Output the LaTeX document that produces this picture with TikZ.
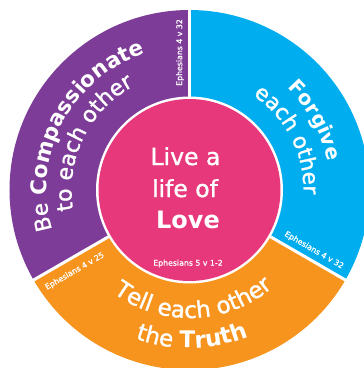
\documentclass[tikz,border=0pt]{standalone}
\usepackage{fontspec}
\setmainfont{DejaVu Sans}
\newfontfamily\medfam[FakeBold=1.2]{DejaVu Sans}
\usetikzlibrary{decorations.text}

\definecolor{secpurple}{RGB}{125,60,152}
\definecolor{seccyan}{RGB}{0,173,238}
\definecolor{secorange}{RGB}{247,148,30}
\definecolor{secpink}{RGB}{230,56,122}
\newcommand{\txtrg}[1]{\fontsize{#1}{#1}\medfam}
\newcommand{\txtbf}[1]{\fontsize{#1}{#1}\rmfamily\bfseries}

\tikzset{
  arctext/.style={decorate, decoration={text along path, text align=center,
      text color=white, text={#1}}},
  ref/.style={text=white, inner sep=0pt, font=\fontsize{7.8}{9}\medfam},
  centre/.style={text=white, inner sep=0pt, anchor=base},
}

\begin{document}
\begin{tikzpicture}[x=1pt, y=1pt]
\useasboundingbox (-189.5,-178) rectangle (174.5,190);
\clip (-189.5,-178) rectangle (174.5,190);
\fill[white] (-189.5,-178) rectangle (174.5,190);

\foreach \col/\a/\b in {secpurple/90/210, seccyan/-30/90, secorange/210/330}
{
    \fill[\col] (0,0) -- (\a:180pt) arc[start angle=\a, end angle=\b, radius=180pt] -- cycle;
}
\foreach \a in {90, 210, 330}
{
    \draw[white, line width=3pt] (0,0) -- (\a:190pt);
}
\fill[white] (0,0) circle[radius=93.5pt];
\fill[secpink] (0,0) circle[radius=91pt];

% purple
\path[arctext={|\txtrg{21.5}|Be |\txtbf{21.5}|Compassionate}] (242:143pt) arc[start angle=242, end angle=62, radius=143pt];
\path[arctext={|\txtrg{22}|to each other}] (244:118pt) arc[start angle=244, end angle=64, radius=118pt];
% cyan
\path[arctext={|\txtbf{20}|Forgive}] (119:141pt) arc[start angle=119, end angle=-61, radius=141pt];
\path[arctext={|\txtrg{21.5}|each other}] (117:114pt) arc[start angle=117, end angle=-63, radius=114pt];
% orange
\path[arctext={|\txtrg{23}|Tell each other}] (182:128pt) arc[start angle=182, end angle=362, radius=128pt];
\path[arctext={|\txtrg{23}|the |\txtbf{23}|Truth}] (181:158pt) arc[start angle=181, end angle=361, radius=158pt];

\node[centre, font=\fontsize{23.5}{28}\medfam] (live) at (-4,25) {Live a};
\node[centre, font=\fontsize{23.5}{28}\medfam] (life) at (-4.5,-7) {life of};
\node[centre, font=\fontsize{24}{28}\bfseries] (love) at (-1.5,-38) {Love};

\node[ref, rotate=90] (refpurple) at (-9.5,137.5) {Ephesians 4 v 32};
\node[ref, rotate=-30] (refcyan) at (124.5,-60.3) {Ephesians 4 v 32};
\node[ref, rotate=30] (reforange) at (-114.7,-81.3) {Ephesians 4 v 25};
\node[ref] (refpink) at (-1.5,-73.5) {Ephesians 5 v 1-2};
\end{tikzpicture}
\end{document}
